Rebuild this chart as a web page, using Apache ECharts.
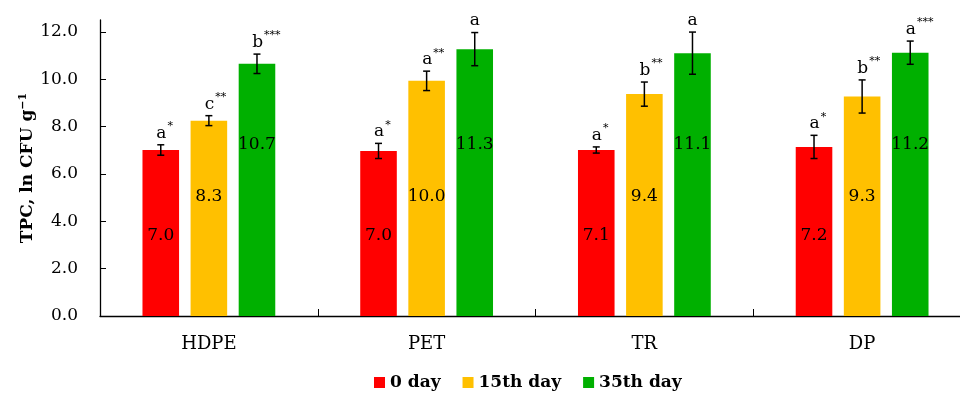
<!DOCTYPE html>
<html>
<head>
<meta charset="utf-8">
<script src="https://cdn.jsdelivr.net/npm/echarts@6/dist/echarts.min.js"></script>
<style>
html,body{margin:0;padding:0;background:#fff;}
#chart{width:960px;height:394px;}
</style>
</head>
<body>
<div id="chart"></div>
<script>
// ---- data ----
var categories = ['HDPE', 'PET', 'TR', 'DP'];
var seriesNames = ['0 day', '15th day', '35th day'];
var day0 = [7.01, 6.97, 7.01, 7.14];
var day15 = [8.25, 9.93, 9.37, 9.27];
var day35 = [10.65, 11.27, 11.10, 11.12];
var labels0 = ['7.0', '7.0', '7.1', '7.2'];
var labels15 = ['8.3', '10.0', '9.4', '9.3'];
var labels35 = ['10.7', '11.3', '11.1', '11.2'];
var err0 = [0.22, 0.32, 0.13, 0.49];
var err15 = [0.21, 0.41, 0.51, 0.70];
var err35 = [0.41, 0.70, 0.89, 0.49];
var letters0 = ['a', 'a', 'a', 'a'];
var letters15 = ['c', 'a', 'b', 'b'];
var letters35 = ['b', 'a', 'a', 'a'];
var stars0 = ['*', '*', '*', '*'];
var stars15 = ['**', '**', '**', '**'];
var stars35 = ['***', '', '', '***'];
var yTicks = [0, 2, 4, 6, 8, 10, 12];

var colors = ['#FF0000', '#FFC000', '#00B000'];
var values = [day0, day15, day35];
var valueLabels = [labels0, labels15, labels35];
var errs = [err0, err15, err35];
var letters = [letters0, letters15, letters35];
var stars = [stars0, stars15, stars35];
var labelDist = [72, 111, 163];

var FONT = 'DejaVu Serif';
var BAR_FRAC = 0.168, GAP = 0.315;

var chart = echarts.init(document.getElementById('chart'));

var series = [];
values.forEach(function (vals, si) {
  series.push({
    name: seriesNames[si],
    type: 'bar',
    data: vals,
    barWidth: (BAR_FRAC * 100) + '%',
    barGap: (GAP * 100) + '%',
    itemStyle: { color: colors[si] },
    label: {
      show: true,
      position: 'insideBottom',
      distance: labelDist[si],
      color: '#000',
      fontFamily: FONT,
      fontSize: 17,
      formatter: function (p) { return valueLabels[si][p.dataIndex]; }
    },
    emphasis: { disabled: true }
  });
});

// error bars + significance letters
values.forEach(function (vals, si) {
  var data = vals.map(function (v, i) { return [i, v, errs[si][i]]; });
  series.push({
    type: 'custom',
    name: 'err' + si,
    silent: true,
    z: 5,
    data: data,
    renderItem: function (params, api) {
      var ci = api.value(0), v = api.value(1), e = api.value(2);
      var band = api.size([1, 0])[0];
      var off = (si - 1) * band * BAR_FRAC * (1 + GAP);
      var c = api.coord([ci, v]);
      var x = c[0] + off;
      var yHi = api.coord([ci, v + e])[1];
      var yLo = api.coord([ci, v - e])[1];
      var cap = 3.5;
      var st = { stroke: '#000', lineWidth: 1.5 };
      return {
        type: 'group',
        children: [
          { type: 'line', shape: { x1: x, y1: yHi, x2: x, y2: yLo }, style: st },
          { type: 'line', shape: { x1: x - cap, y1: yHi, x2: x + cap, y2: yHi }, style: st },
          { type: 'line', shape: { x1: x - cap, y1: yLo, x2: x + cap, y2: yLo }, style: st },
          {
            type: 'text',
            x: x + (stars[si][ci] ? 1 + stars[si][ci].length * 2.8 : 0),
            y: yHi - 3,
            style: {
              text: '{l|' + letters[si][ci] + '}' + (stars[si][ci] ? '{s|' + stars[si][ci] + '}' : ''),
              align: 'center',
              verticalAlign: 'bottom',
              rich: {
                l: { fontFamily: FONT, fontSize: 17, fill: '#000', color: '#000', verticalAlign: 'bottom' },
                s: { fontFamily: FONT, fontSize: 11, fill: '#000', color: '#000', verticalAlign: 'top', padding: [0, 0, 10, 1] }
              }
            }
          }
        ]
      };
    }
  });
});

chart.setOption({
  animation: false,
  backgroundColor: '#fff',
  grid: { left: 100, width: 871, top: 20, bottom: 78, outerBoundsMode: 'none', containLabel: false },
  legend: {
    data: seriesNames,
    left: 369,
    top: 369,
    itemWidth: 11,
    itemHeight: 11,
    itemGap: 22,
    icon: 'rect',
    textStyle: { fontFamily: FONT, fontSize: 17, fontWeight: 'bold', color: '#000' }
  },
  xAxis: {
    type: 'category',
    data: categories,
    axisLine: { lineStyle: { color: '#000', width: 1.3 } },
    axisTick: { show: true, inside: true, length: 7, alignWithLabel: false, lineStyle: { color: '#000' } },
    axisLabel: { fontFamily: FONT, fontSize: 18, color: '#000', margin: 19 },
    splitLine: { show: false }
  },
  yAxis: {
    type: 'value',
    min: 0,
    max: 12.5,
    name: '{b|TPC, ln CFU g}{sup|−1}',
    nameLocation: 'middle',
    nameGap: 63,
    nameMoveOverlap: false,
    nameRotate: 90,
    nameTextStyle: {
      rich: {
        b: { fontFamily: FONT, fontSize: 17, fontWeight: 'bold', color: '#000' },
        sup: { fontFamily: FONT, fontSize: 11, fontWeight: 'bold', color: '#000', verticalAlign: 'top', padding: [0, 0, 8, 0] }
      }
    },
    axisLine: { show: true, lineStyle: { color: '#000', width: 1.3 } },
    axisTick: { show: true, inside: true, length: 6, customValues: yTicks, lineStyle: { color: '#000' } },
    axisLabel: {
      fontFamily: FONT, fontSize: 17, color: '#000', margin: 22,
      customValues: yTicks,
      formatter: function (v) { return v.toFixed(1); }
    },
    splitLine: { show: false }
  },
  series: series
});
</script>
</body>
</html>
